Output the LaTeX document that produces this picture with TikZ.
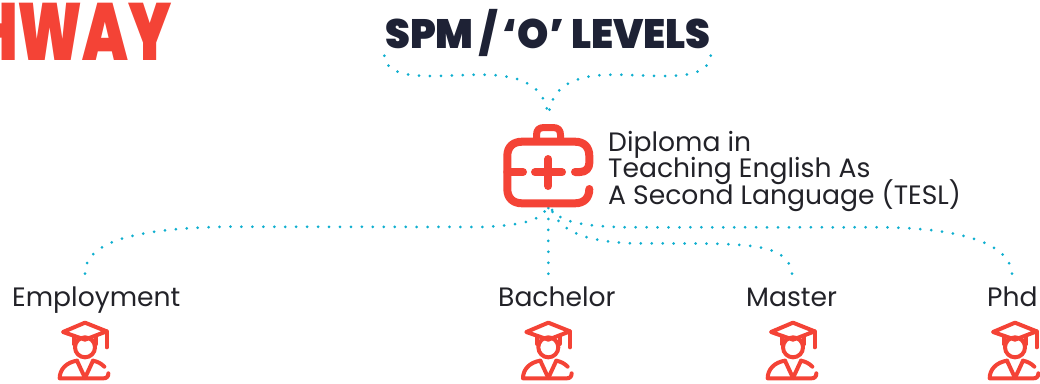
\documentclass[tikz,border=0pt]{standalone}
\usepackage{fontspec}
\setmainfont{Poppins}
\newfontfamily\popblack{Poppins Black}
\lineskiplimit=-20pt
\definecolor{redc}{HTML}{F44336}
\definecolor{navyc}{HTML}{1E2235}
\definecolor{cyanc}{HTML}{0FAFCF}
\definecolor{inkc}{HTML}{222228}
\tikzset{
  dotline/.style={cyanc,line width=3pt,line cap=round,dash pattern=on 0pt off 10.95pt},
  labeltext/.style={inkc,anchor=base west,inner sep=0pt,font=\fontsize{26.6}{26.4}\selectfont},
  iconstroke/.style={redc,line cap=round,line join=round},
  pics/gradicon/.style={code={
    \begin{scope}[x=0.3333pt,y=-0.3333pt,iconstroke,line width=4pt,shift={(-100,0)}]
      \draw (34,42) -- (100,14) -- (165,40) -- (100,65) -- cycle;
      \draw (165,40) -- (165,88);
      \draw (66,55) -- (66,78);
      \draw (134,55) -- (134,78);
      \draw (100,88) circle (30);
      \draw (76,128) -- (100,180) -- (124,128);
      \draw (158,146) .. controls (148,136) and (138,131) .. (124,128);
      \draw (76,128) .. controls (44,133) and (24,154) .. (24,181) -- (155,181) .. controls (165,181) and (170,176) .. (170,166);
    \end{scope}
  }}
}
\begin{document}
\begin{tikzpicture}[x=1pt,y=-1pt]
\useasboundingbox (0,0) rectangle (1040,383);
\begin{scope}
\clip (0,0) rectangle (1040,383);
\node[anchor=base east,inner sep=0pt,text=redc,font=\popblack\fontsize{81}{81}\selectfont,xscale=0.73] (pathway) at (172,60) {HWAY};
\end{scope}
\node[anchor=base,inner sep=0pt,text=navyc,font=\popblack\fontsize{41}{41}\selectfont,xscale=0.97] (spm) at (548,48) {SPM\,/\,‘O’ LEVELS};
\node[labeltext,align=left,anchor=base west] (dip) at (608,204.3) {Diploma in\\Teaching English As\\A Second Language (TESL)};
\node[labeltext] (emp) at (12,306) {Employment};
\node[labeltext] (bac) at (498,306) {Bachelor};
\node[labeltext] (mas) at (746,306) {Master};
\node[labeltext] (phd) at (987,306) {Phd};

\coordinate (spmL) at (384.3,55.7);
\coordinate (spmR) at (710.7,55.7);
\coordinate (topHub) at (548.3,118);
\coordinate (hub) at (548.3,200);
\coordinate (empEnd) at (85,273.7);
\coordinate (bacEnd) at (548.3,273.7);
\coordinate (masEnd) at (792,273.7);
\coordinate (phdEnd) at (1012,273.7);

\draw[dotline] (spmL) .. controls (386,72) and (405,76) .. (430,76)
  .. controls (450,76) and (465,74.5) .. (484,74.7)
  .. controls (520,75) and (546,85) .. (topHub);
\draw[dotline] (spmR) .. controls (709,72) and (690,76) .. (665,76)
  .. controls (645,76) and (630,74.5) .. (612,74.7)
  .. controls (576,75) and (550,85) .. (topHub);

\draw[dotline] (empEnd) .. controls (85,245) and (125,228) .. (230,226.7)
  -- (482,227) .. controls (520,225) and (548,222) .. (hub);
\draw[dotline] (bacEnd) -- (hub);
\draw[dotline] (masEnd) .. controls (789,248) and (760,244) .. (700,243.5)
  -- (630,243.3) .. controls (585,241) and (555,232) .. (hub);
\draw[dotline] (phdEnd) .. controls (1010,243) and (960,228) .. (880,227.3)
  -- (626,227.3) .. controls (580,226) and (551,222) .. (hub);

% suitcase
\begin{scope}[iconstroke]
\draw[line width=8pt] (575,172) -- (580,172) .. controls (586,172) and (589.3,168) .. (589.3,163)
  -- (589.3,156) .. controls (589.3,147) and (584,141.7) .. (575,141.7)
  -- (522,141.7) .. controls (513,141.7) and (507.3,147) .. (507.3,156)
  -- (507.3,189) .. controls (507.3,198) and (513,203.3) .. (522,203.3)
  -- (575,203.3) .. controls (584,203.3) and (589.3,198) .. (589.3,189);
\draw[line width=8pt] (507.3,172) -- (523,172);
\draw[line width=8pt] (535,172.3) -- (562,172.3);
\draw[line width=8pt] (548.3,159) -- (548.3,186);
\draw[line width=7pt] (536.5,141) -- (536.5,135) .. controls (536.5,130) and (539,127.5) .. (544,127.5)
  -- (553,127.5) .. controls (558,127.5) and (560.5,130) .. (560.5,135) -- (560.5,141);
\end{scope}

\pic at (85,318) {gradicon};
\pic at (548.3,318) {gradicon};
\pic at (793,318) {gradicon};
\pic at (1015,318) {gradicon};
\end{tikzpicture}
\end{document}
